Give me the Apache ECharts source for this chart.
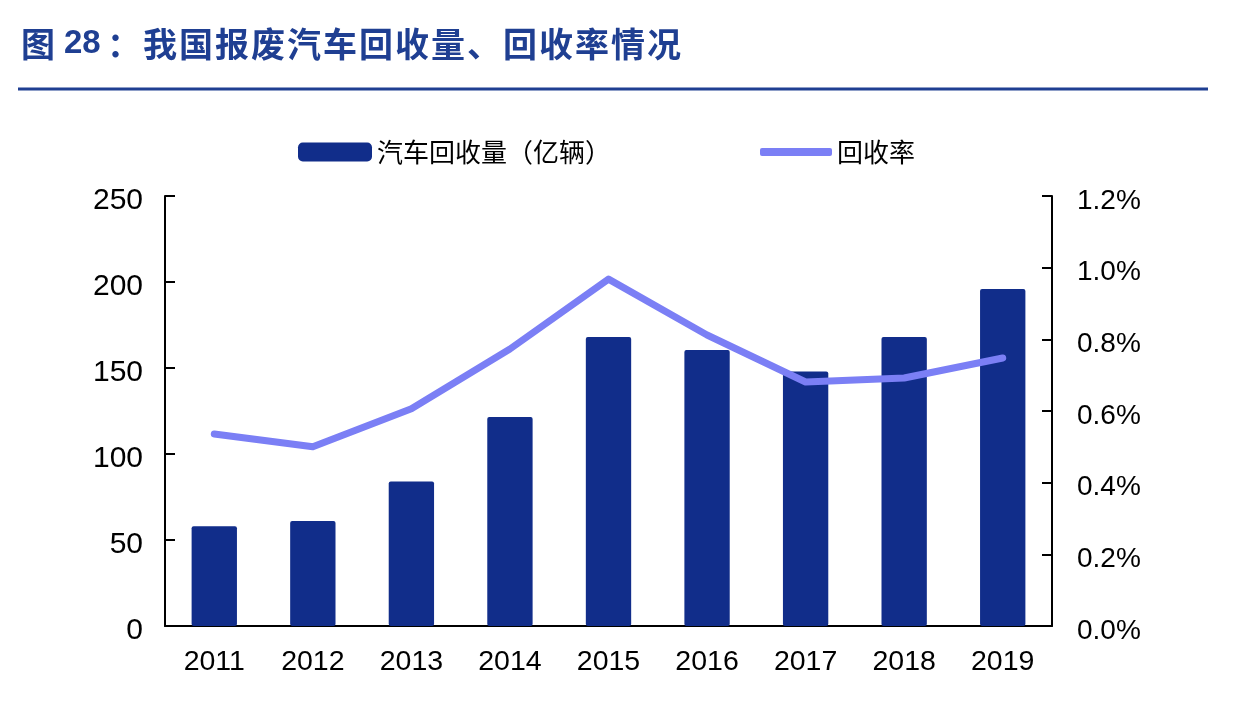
<!DOCTYPE html>
<html>
<head>
<meta charset="utf-8">
<script src="https://cdn.jsdelivr.net/npm/echarts@6/dist/echarts.min.js"></script>
<style>html,body{margin:0;padding:0;background:#fff}#c{width:1242px;height:704px}</style>
</head>
<body>
<div id="c"></div>
<script>
var years = ['2011','2012','2013','2014','2015','2016','2017','2018','2019'];
var recycleVolume = [58, 61, 84, 121.5, 168, 160.5, 148, 168, 196];
var recycleRate = [0.536, 0.50, 0.606, 0.773, 0.968, 0.812, 0.681, 0.692, 0.748];
var leftTicks = [0, 50, 100, 150, 200, 250];
var rightTicks = [0, 0.2, 0.4, 0.6, 0.8, 1.0, 1.2];

var barColor = '#112d8a';
var lineColor = '#7b7ff5';
var titleColor = '#1f3f92';

var titleHead = '图';
var titleNum = '28';
var titleBody = '：我国报废汽车回收量、回收率情况';

function buildTitle() {
  var s = '{h|' + titleHead + '}{n|' + titleNum + '}';
  for (var i = 0; i < titleBody.length; i++) s += '{c|' + titleBody[i] + '}';
  return s;
}

var cjk = '"Noto Sans CJK SC", sans-serif';
var arial = 'Liberation Sans, Arial, sans-serif';
var chart = echarts.init(document.getElementById('c'));
chart.setOption({
  animation: false,
  title: {
    text: buildTitle(),
    left: 16, top: 22,
    textStyle: {
      fontSize: 34,
      rich: {
        h: { fontFamily: cjk, fontSize: 34, fontWeight: 'bold', color: titleColor, width: 43 },
        n: { fontFamily: arial, fontSize: 33, fontWeight: 'bold', color: titleColor, width: 42, padding: [0, 0, 2, 0] },
        c: { fontFamily: cjk, fontSize: 34, fontWeight: 'bold', color: titleColor, width: 36, align: 'center' }
      }
    }
  },
  graphic: [{
    type: 'line', shape: { x1: 18, y1: 89, x2: 1208, y2: 89 },
    style: { stroke: titleColor, lineWidth: 3 }
  }],
  legend: [{
    data: ['汽车回收量（亿辆）'],
    left: 293, top: 134,
    itemWidth: 74, itemHeight: 19,
    icon: 'roundRect',
    textStyle: { fontFamily: cjk, fontSize: 26, color: '#000' }
  }, {
    data: ['回收率'],
    left: 755, top: 134,
    itemWidth: 72, itemHeight: 8,
    icon: 'roundRect',
    itemStyle: { color: lineColor, borderWidth: 0 },
    textStyle: { fontFamily: cjk, fontSize: 26, color: '#000' }
  }],
  grid: { left: 165, right: 190, top: 196, bottom: 78, containLabel: false },
  xAxis: {
    type: 'category', data: years,
    axisLine: { lineStyle: { color: '#000', width: 2 } },
    axisTick: { inside: true, length: 9, lineStyle: { color: '#000', width: 2 } },
    axisLabel: { margin: 22, fontFamily: arial, fontSize: 28.5, color: '#000' }
  },
  yAxis: [{
    type: 'value', min: 0, max: 250, interval: 50,
    axisLine: { show: true, lineStyle: { color: '#000', width: 2 } },
    axisTick: { show: true, inside: true, length: 10, lineStyle: { color: '#000', width: 2 } },
    splitLine: { show: false },
    axisLabel: { margin: 22, color: '#000',
      formatter: function (v) { return '{a|' + v + '}'; },
      rich: { a: { fontFamily: arial, fontSize: 30, color: '#000', padding: [10, 0, 0, 0] } } }
  }, {
    type: 'value', min: 0, max: 1.2, interval: 0.2,
    position: 'right',
    axisLine: { show: true, lineStyle: { color: '#000', width: 2 } },
    axisTick: { show: true, inside: true, length: 10, lineStyle: { color: '#000', width: 2 } },
    splitLine: { show: false },
    axisLabel: { margin: 25, color: '#000',
      formatter: function (v) { return '{a|' + v.toFixed(1) + '%}'; },
      rich: { a: { fontFamily: arial, fontSize: 28, color: '#000', padding: [10, 0, 0, 0] } } }
  }],
  series: [{
    name: '汽车回收量（亿辆）', type: 'bar', data: recycleVolume,
    barWidth: '46%',
    itemStyle: { color: barColor, borderRadius: 2 }
  }, {
    name: '回收率', type: 'line', yAxisIndex: 1, data: recycleRate,
    symbol: 'none',
    lineStyle: { color: lineColor, width: 7, cap: 'round', join: 'round' },
    itemStyle: { color: lineColor }
  }]
});
</script>
</body>
</html>
